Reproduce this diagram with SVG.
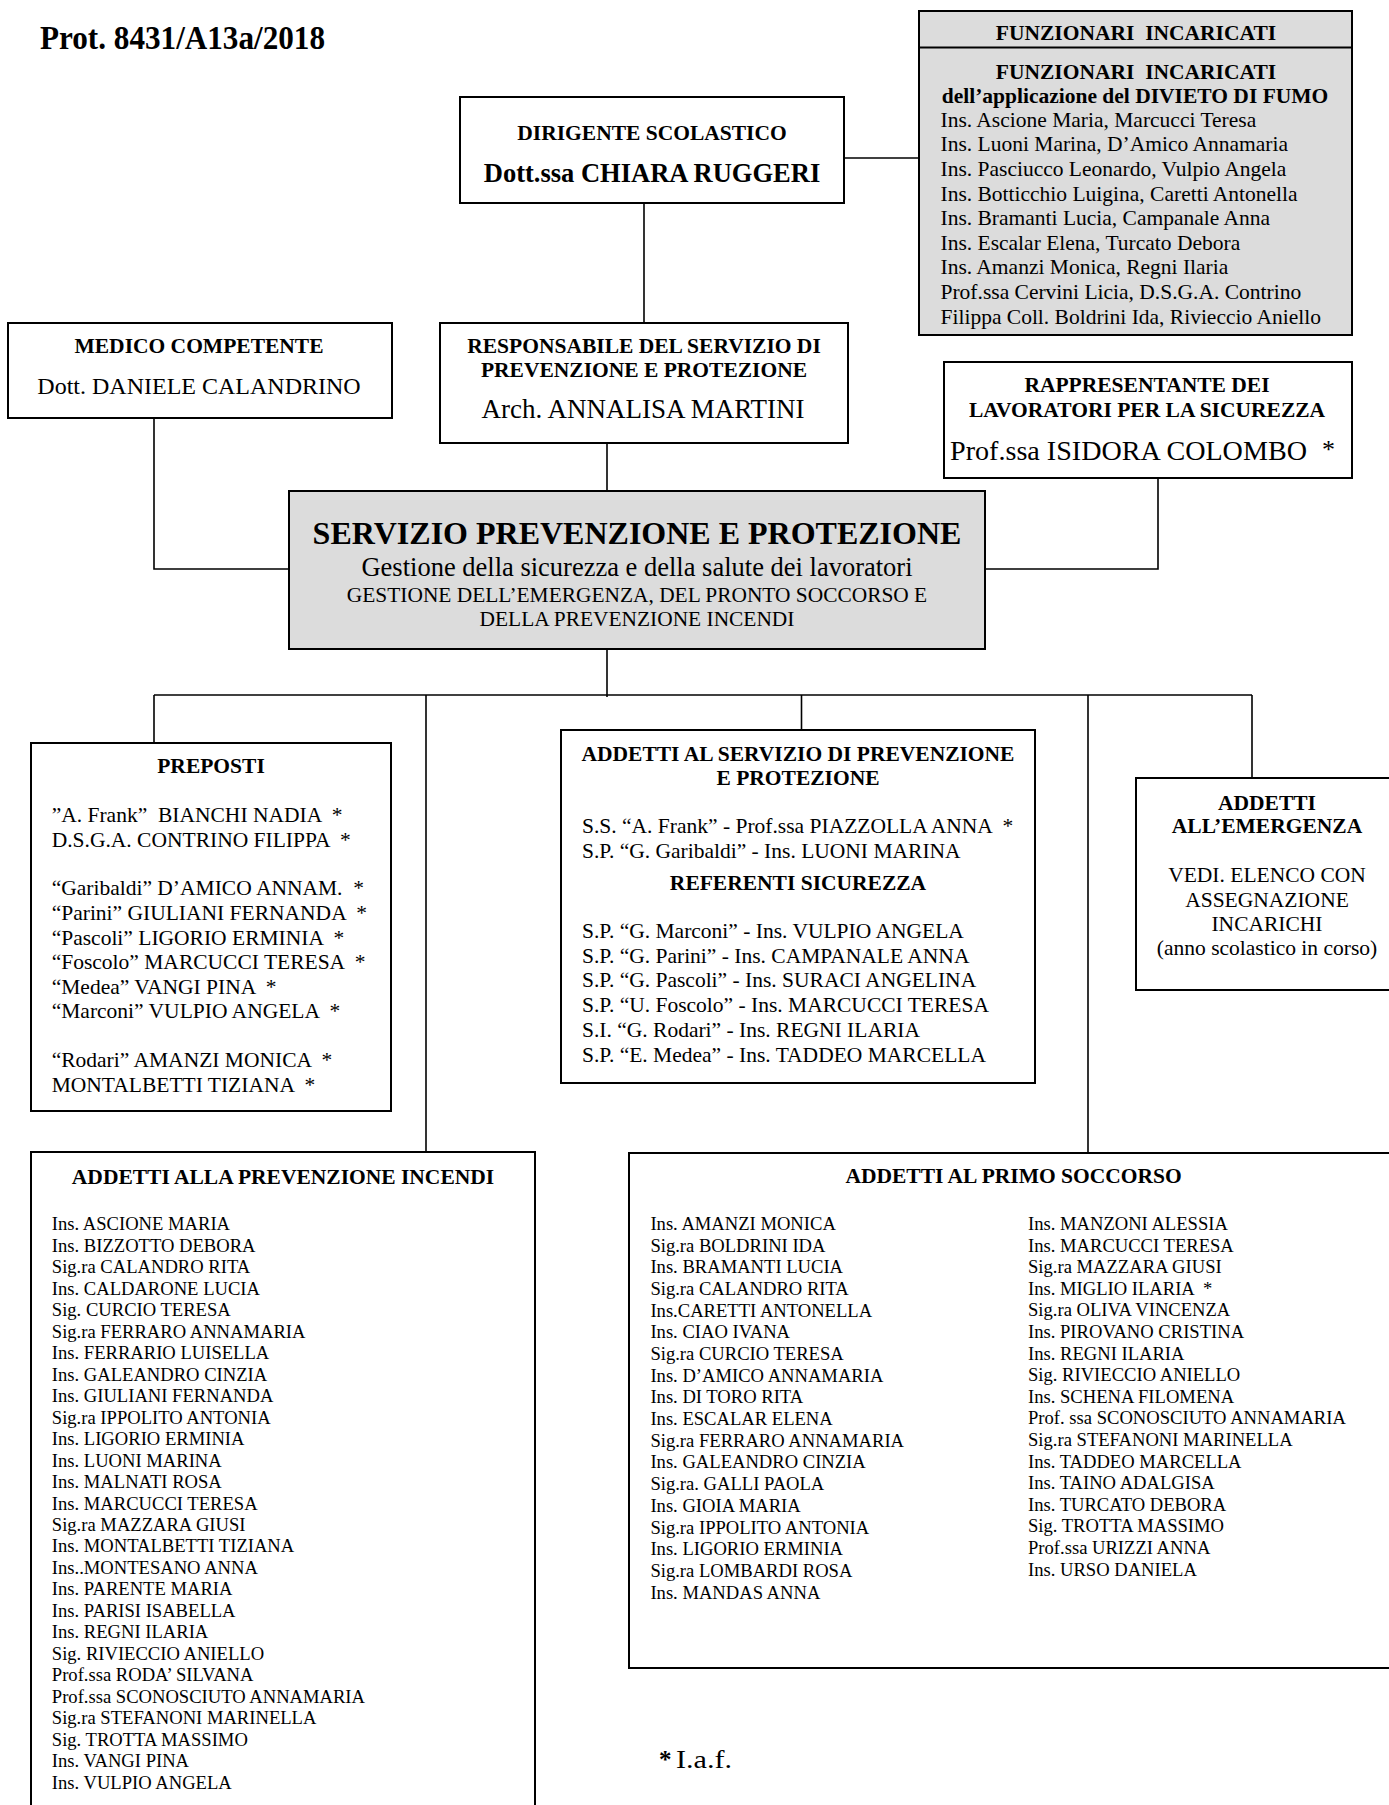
<svg xmlns="http://www.w3.org/2000/svg" width="1389" height="1805" viewBox="0 0 1389 1805">
<style>
text{font-family:"Liberation Serif","Times New Roman",serif;fill:#000;white-space:pre}
.b{font-weight:bold;font-size:21.5px}
.r{font-size:21.5px}
.s{font-size:18.6px}
.c{text-anchor:middle}
.box{fill:#fff;stroke:#000;stroke-width:2}
.grey{fill:#dcdcdc;stroke:#000;stroke-width:2}
.ln{fill:none;stroke:#000;stroke-width:1.6}
</style>
<rect width="1389" height="1805" fill="#fff"/>
<g id="connectors">
<line class="ln" x1="644" y1="203" x2="644" y2="323"/>
<line class="ln" x1="844" y1="158" x2="919" y2="158"/>
<polyline class="ln" points="154,418 154,569 289,569"/>
<line class="ln" x1="607" y1="443" x2="607" y2="491"/>
<polyline class="ln" points="1158,478 1158,569 985,569"/>
<line class="ln" x1="607" y1="649" x2="607" y2="697"/>
<line class="ln" x1="154" y1="695" x2="1252" y2="695"/>
<line class="ln" x1="154" y1="695" x2="154" y2="743"/>
<line class="ln" x1="426" y1="695" x2="426" y2="1152"/>
<line class="ln" x1="801.5" y1="695" x2="801.5" y2="730"/>
<line class="ln" x1="1088" y1="695" x2="1088" y2="1153"/>
<line class="ln" x1="1252" y1="695" x2="1252" y2="778"/>
</g>
<g id="protocollo">
<text x="40" y="49" font-weight="bold" font-size="33" textLength="285" lengthAdjust="spacingAndGlyphs">Prot. 8431/A13a/2018</text>
</g>
<g id="dirigente">
<rect class="box" x="460" y="97" width="384" height="106"/>
<text class="b c" x="652" y="140">DIRIGENTE SCOLASTICO</text>
<text class="c" x="652" y="182" font-weight="bold" font-size="26.5">Dott.ssa CHIARA RUGGERI</text>
</g>
<g id="funzionari">
<rect class="grey" x="919" y="11" width="433" height="324"/>
<line x1="919" y1="47.5" x2="1352" y2="47.5" stroke="#000" stroke-width="2"/>
<text class="b c" x="1136" y="40">FUNZIONARI  INCARICATI</text>
<text class="b c" x="1136" y="79">FUNZIONARI  INCARICATI</text>
<text class="b c" x="1135" y="103.3">dell’applicazione del DIVIETO DI FUMO</text>
<text class="r" x="940.5" y="126.7">Ins. Ascione Maria, Marcucci Teresa<tspan x="940.5" dy="24.6">Ins. Luoni Marina, D’Amico Annamaria</tspan><tspan x="940.5" dy="24.6">Ins. Pasciucco Leonardo, Vulpio Angela</tspan><tspan x="940.5" dy="24.6">Ins. Botticchio Luigina, Caretti Antonella</tspan><tspan x="940.5" dy="24.6">Ins. Bramanti Lucia, Campanale Anna</tspan><tspan x="940.5" dy="24.6">Ins. Escalar Elena, Turcato Debora</tspan><tspan x="940.5" dy="24.6">Ins. Amanzi Monica, Regni Ilaria</tspan><tspan x="940.5" dy="24.6">Prof.ssa Cervini Licia, D.S.G.A. Contrino</tspan><tspan x="940.5" dy="24.6">Filippa Coll. Boldrini Ida, Rivieccio Aniello</tspan></text>
</g>
<g id="medico">
<rect class="box" x="8" y="323" width="384" height="95"/>
<text class="b c" x="199" y="353">MEDICO COMPETENTE</text>
<text class="c" x="199" y="393.5" font-size="24">Dott. DANIELE CALANDRINO</text>
</g>
<g id="rspp">
<rect class="box" x="440" y="323" width="408" height="120"/>
<text class="b c" x="644" y="353">RESPONSABILE DEL SERVIZIO DI</text>
<text class="b c" x="644" y="376.5">PREVENZIONE E PROTEZIONE</text>
<text class="c" x="643" y="418" font-size="27">Arch. ANNALISA MARTINI</text>
</g>
<g id="rls">
<rect class="box" x="944" y="362" width="408" height="116"/>
<text class="b c" x="1147" y="391.7">RAPPRESENTANTE DEI</text>
<text class="b c" x="1147" y="416.7">LAVORATORI PER LA SICUREZZA</text>
<text x="950" y="460" font-size="27" textLength="357" lengthAdjust="spacingAndGlyphs">Prof.ssa ISIDORA COLOMBO</text>
<text x="1322" y="458" font-size="26">*</text>
</g>
<g id="servizio">
<rect class="grey" x="289" y="491" width="696" height="158"/>
<text class="c" x="637" y="544" font-weight="bold" font-size="32">SERVIZIO PREVENZIONE E PROTEZIONE</text>
<text class="c" x="637" y="575.5" font-size="26.5">Gestione della sicurezza e della salute dei lavoratori</text>
<text class="c" x="637" y="601.5" font-size="21.4">GESTIONE DELL’EMERGENZA, DEL PRONTO SOCCORSO E</text>
<text class="c" x="637" y="626" font-size="21.4">DELLA PREVENZIONE INCENDI</text>
</g>
<g id="preposti">
<rect class="box" x="31" y="743" width="360" height="368"/>
<text class="b c" x="211" y="773">PREPOSTI</text>
<text class="r" x="51.7" y="821.7">”A. Frank”  BIANCHI NADIA  *</text>
<text class="r" x="51.7" y="846.7">D.S.G.A. CONTRINO FILIPPA  *</text>
<text class="r" x="51.7" y="895">“Garibaldi” D’AMICO ANNAM.  *</text>
<text class="r" x="51.7" y="920">“Parini” GIULIANI FERNANDA  *</text>
<text class="r" x="51.7" y="945">“Pascoli” LIGORIO ERMINIA  *</text>
<text class="r" x="51.7" y="969.3">“Foscolo” MARCUCCI TERESA  *</text>
<text class="r" x="51.7" y="994">“Medea” VANGI PINA  *</text>
<text class="r" x="51.7" y="1018.3">“Marconi” VULPIO ANGELA  *</text>
<text class="r" x="51.7" y="1066.7">“Rodari” AMANZI MONICA  *</text>
<text class="r" x="51.7" y="1091.7">MONTALBETTI TIZIANA  *</text>
</g>
<g id="addetti-spp">
<rect class="box" x="561" y="730" width="474" height="353"/>
<text class="b c" x="798" y="760.7">ADDETTI AL SERVIZIO DI PREVENZIONE</text>
<text class="b c" x="798" y="785">E PROTEZIONE</text>
<text class="r" x="582" y="833.3">S.S. “A. Frank” - Prof.ssa PIAZZOLLA ANNA  *</text>
<text class="r" x="582" y="858.3">S.P. “G. Garibaldi” - Ins. LUONI MARINA</text>
<text class="b c" x="798" y="890">REFERENTI SICUREZZA</text>
<text class="r" x="582" y="937.8">S.P. “G. Marconi” - Ins. VULPIO ANGELA</text>
<text class="r" x="582" y="962.6">S.P. “G. Parini” - Ins. CAMPANALE ANNA</text>
<text class="r" x="582" y="987.4">S.P. “G. Pascoli” - Ins. SURACI ANGELINA</text>
<text class="r" x="582" y="1012">S.P. “U. Foscolo” - Ins. MARCUCCI TERESA</text>
<text class="r" x="582" y="1036.8">S.I. “G. Rodari” - Ins. REGNI ILARIA</text>
<text class="r" x="582" y="1061.6">S.P. “E. Medea” - Ins. TADDEO MARCELLA</text>
</g>
<g id="emergenza">
<rect class="box" x="1136" y="778" width="262" height="212"/>
<text class="b c" x="1267" y="810">ADDETTI</text>
<text class="b c" x="1267" y="832.7">ALL’EMERGENZA</text>
<text class="c" x="1267" y="881.7" font-size="21.5">VEDI. ELENCO CON</text>
<text class="c" x="1267" y="906.7" font-size="21.5">ASSEGNAZIONE</text>
<text class="c" x="1267" y="930.7" font-size="21.5">INCARICHI</text>
<text class="c" x="1267" y="954.5" font-size="21.5">(anno scolastico in corso)</text>
</g>
<g id="prevenzione-incendi">
<rect class="box" x="31" y="1152" width="504" height="670"/>
<text class="b c" x="283" y="1183.7">ADDETTI ALLA PREVENZIONE INCENDI</text>
<text class="s" x="51.8" y="1230.4">Ins. ASCIONE MARIA<tspan x="51.8" dy="21.47">Ins. BIZZOTTO DEBORA</tspan><tspan x="51.8" dy="21.47">Sig.ra CALANDRO RITA</tspan><tspan x="51.8" dy="21.47">Ins. CALDARONE LUCIA</tspan><tspan x="51.8" dy="21.47">Sig. CURCIO TERESA</tspan><tspan x="51.8" dy="21.47">Sig.ra FERRARO ANNAMARIA</tspan><tspan x="51.8" dy="21.47">Ins. FERRARIO LUISELLA</tspan><tspan x="51.8" dy="21.47">Ins. GALEANDRO CINZIA</tspan><tspan x="51.8" dy="21.47">Ins. GIULIANI FERNANDA</tspan><tspan x="51.8" dy="21.47">Sig.ra IPPOLITO ANTONIA</tspan><tspan x="51.8" dy="21.47">Ins. LIGORIO ERMINIA</tspan><tspan x="51.8" dy="21.47">Ins. LUONI MARINA</tspan><tspan x="51.8" dy="21.47">Ins. MALNATI ROSA</tspan><tspan x="51.8" dy="21.47">Ins. MARCUCCI TERESA</tspan><tspan x="51.8" dy="21.47">Sig.ra MAZZARA GIUSI</tspan><tspan x="51.8" dy="21.47">Ins. MONTALBETTI TIZIANA</tspan><tspan x="51.8" dy="21.47">Ins..MONTESANO ANNA</tspan><tspan x="51.8" dy="21.47">Ins. PARENTE MARIA</tspan><tspan x="51.8" dy="21.47">Ins. PARISI ISABELLA</tspan><tspan x="51.8" dy="21.47">Ins. REGNI ILARIA</tspan><tspan x="51.8" dy="21.47">Sig. RIVIECCIO ANIELLO</tspan><tspan x="51.8" dy="21.47">Prof.ssa RODA’ SILVANA</tspan><tspan x="51.8" dy="21.47">Prof.ssa SCONOSCIUTO ANNAMARIA</tspan><tspan x="51.8" dy="21.47">Sig.ra STEFANONI MARINELLA</tspan><tspan x="51.8" dy="21.47">Sig. TROTTA MASSIMO</tspan><tspan x="51.8" dy="21.47">Ins. VANGI PINA</tspan><tspan x="51.8" dy="21.47">Ins. VULPIO ANGELA</tspan></text>
</g>
<g id="primo-soccorso">
<rect class="box" x="629" y="1153" width="770" height="515"/>
<text class="b c" x="1013.6" y="1183.3">ADDETTI AL PRIMO SOCCORSO</text>
<text class="s" x="650.4" y="1230">Ins. AMANZI MONICA<tspan x="650.4" dy="21.68">Sig.ra BOLDRINI IDA</tspan><tspan x="650.4" dy="21.68">Ins. BRAMANTI LUCIA</tspan><tspan x="650.4" dy="21.68">Sig.ra CALANDRO RITA</tspan><tspan x="650.4" dy="21.68">Ins.CARETTI ANTONELLA</tspan><tspan x="650.4" dy="21.68">Ins. CIAO IVANA</tspan><tspan x="650.4" dy="21.68">Sig.ra CURCIO TERESA</tspan><tspan x="650.4" dy="21.68">Ins. D’AMICO ANNAMARIA</tspan><tspan x="650.4" dy="21.68">Ins. DI TORO RITA</tspan><tspan x="650.4" dy="21.68">Ins. ESCALAR ELENA</tspan><tspan x="650.4" dy="21.68">Sig.ra FERRARO ANNAMARIA</tspan><tspan x="650.4" dy="21.68">Ins. GALEANDRO CINZIA</tspan><tspan x="650.4" dy="21.68">Sig.ra. GALLI PAOLA</tspan><tspan x="650.4" dy="21.68">Ins. GIOIA MARIA</tspan><tspan x="650.4" dy="21.68">Sig.ra IPPOLITO ANTONIA</tspan><tspan x="650.4" dy="21.68">Ins. LIGORIO ERMINIA</tspan><tspan x="650.4" dy="21.68">Sig.ra LOMBARDI ROSA</tspan><tspan x="650.4" dy="21.68">Ins. MANDAS ANNA</tspan></text>
<text class="s" x="1028" y="1230">Ins. MANZONI ALESSIA<tspan x="1028" dy="21.6">Ins. MARCUCCI TERESA</tspan><tspan x="1028" dy="21.6">Sig.ra MAZZARA GIUSI</tspan><tspan x="1028" dy="21.6">Ins. MIGLIO ILARIA  *</tspan><tspan x="1028" dy="21.6">Sig.ra OLIVA VINCENZA</tspan><tspan x="1028" dy="21.6">Ins. PIROVANO CRISTINA</tspan><tspan x="1028" dy="21.6">Ins. REGNI ILARIA</tspan><tspan x="1028" dy="21.6">Sig. RIVIECCIO ANIELLO</tspan><tspan x="1028" dy="21.6">Ins. SCHENA FILOMENA</tspan><tspan x="1028" dy="21.6">Prof. ssa SCONOSCIUTO ANNAMARIA</tspan><tspan x="1028" dy="21.6">Sig.ra STEFANONI MARINELLA</tspan><tspan x="1028" dy="21.6">Ins. TADDEO MARCELLA</tspan><tspan x="1028" dy="21.6">Ins. TAINO ADALGISA</tspan><tspan x="1028" dy="21.6">Ins. TURCATO DEBORA</tspan><tspan x="1028" dy="21.6">Sig. TROTTA MASSIMO</tspan><tspan x="1028" dy="21.6">Prof.ssa URIZZI ANNA</tspan><tspan x="1028" dy="21.6">Ins. URSO DANIELA</tspan></text>
</g>
<g id="legenda">
<text x="659" y="1768" font-size="25" font-weight="bold">*</text>
<text x="676" y="1768" font-size="26" textLength="56" lengthAdjust="spacingAndGlyphs">I.a.f.</text>
</g>
</svg>
